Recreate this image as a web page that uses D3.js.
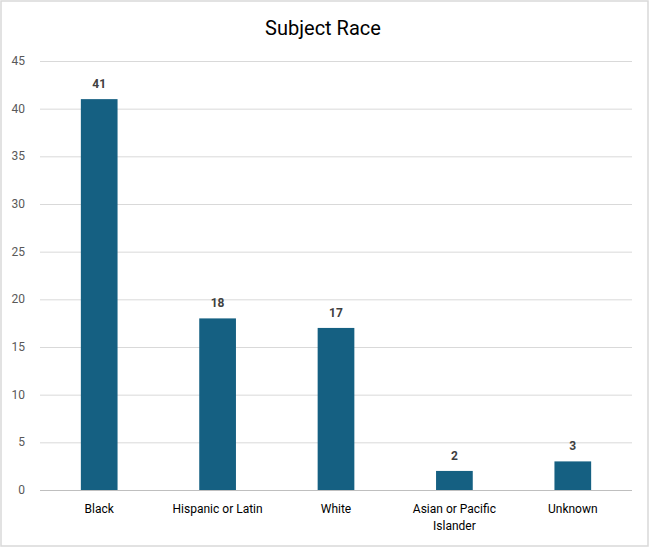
<!DOCTYPE html>
<html><head><meta charset="utf-8">
<script src="https://cdn.jsdelivr.net/npm/d3@7"></script>
<style>body{margin:0;background:#fff}svg{display:block}text{font-family:Roboto,"Open Sans",sans-serif}</style>
</head><body><svg id="c" width="650" height="548"></svg>
<script>
const categories = ["Black","Hispanic or Latin","White","Asian or Pacific Islander","Unknown"];
const values = [41,18,17,2,3];
const yTicks = [0,5,10,15,20,25,30,35,40,45];
const title = "Subject Race";

const svg = d3.select("#c");
const W=650,H=548, m={l:40,r:18,t:61,b:58};
svg.append("rect").attr("x",1).attr("y",1).attr("width",W-3).attr("height",H-3).attr("fill","#fff").attr("stroke","#d9d9d9").attr("stroke-width",1.5);
const x = d3.scaleBand().domain(categories).range([m.l,W-m.r]).paddingInner(0.69).paddingOuter(0.345);
const y = d3.scaleLinear().domain([0,45]).range([H-m.b,m.t]);
svg.append("text").attr("x",323).attr("y",35).attr("text-anchor","middle").attr("font-size",20).attr("fill","#000").text(title);
const g = svg.append("g");
g.selectAll("line.grid").data(yTicks).join("line").attr("class","grid")
 .attr("x1",m.l).attr("x2",W-m.r).attr("y1",d=>y(d)+0.5).attr("y2",d=>y(d)+0.5)
 .attr("stroke",(d)=>d===0?"#bfbfbf":"#d9d9d9").attr("stroke-width",1);
g.selectAll("text.yt").data(yTicks).join("text").attr("class","yt")
 .attr("x",25).attr("y",d=>y(d)+4).attr("text-anchor","end").attr("font-size",12).attr("fill","#595959").text(d=>d);
g.selectAll("rect.bar").data(values).join("rect").attr("class","bar")
 .attr("x",(d,i)=>x(categories[i])).attr("width",x.bandwidth())
 .attr("y",d=>y(d)).attr("height",d=>y(0)-y(d)).attr("fill","#156082");
g.selectAll("text.lbl").data(values).join("text").attr("class","lbl")
 .attr("x",(d,i)=>x(categories[i])+x.bandwidth()/2).attr("y",d=>y(d)-11)
 .attr("text-anchor","middle").attr("font-size",12).attr("font-weight","bold").attr("fill","#404040").text(d=>d);
const wrap = {"Asian or Pacific Islander":["Asian or Pacific","Islander"]};
categories.forEach(c=>{
  const lines = wrap[c]||[c];
  const t = g.append("text").attr("x",x(c)+x.bandwidth()/2).attr("y",513).attr("text-anchor","middle").attr("font-size",12).attr("fill","#000");
  lines.forEach((l,i)=>t.append("tspan").attr("x",x(c)+x.bandwidth()/2).attr("dy",i?17:0).text(l));
});
</script></body></html>
